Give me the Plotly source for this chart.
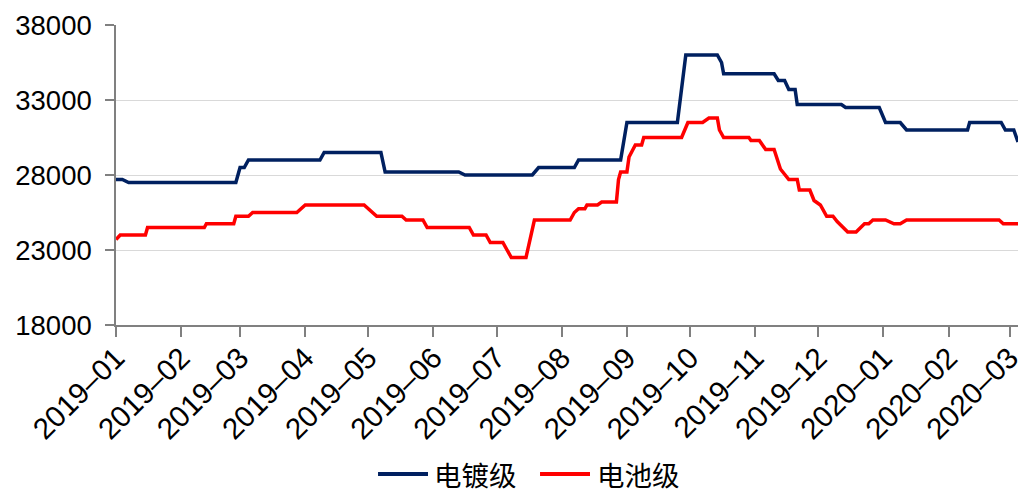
import plotly.graph_objects as go

# 电镀级 (electroplating grade)
plating_dates = [
    "2019-01-01", "2019-01-04", "2019-01-07", "2019-02-27", "2019-03-01", "2019-03-03",
    "2019-03-05", "2019-04-08", "2019-04-10", "2019-05-07", "2019-05-09", "2019-06-13",
    "2019-06-16", "2019-07-18", "2019-07-21", "2019-08-07", "2019-08-09", "2019-08-29",
    "2019-09-01", "2019-09-25", "2019-09-29", "2019-10-14", "2019-10-16", "2019-10-17",
    "2019-11-10", "2019-11-12", "2019-11-15", "2019-11-17", "2019-11-20", "2019-11-21",
    "2019-12-12", "2019-12-14", "2019-12-30", "2020-01-02", "2020-01-09", "2020-01-12",
    "2020-02-10", "2020-02-11", "2020-02-26", "2020-02-28", "2020-03-03", "2020-03-05",
]
plating_values = [
    27700, 27700, 27500, 27500, 28500, 28500,
    29000, 29000, 29500, 29500, 28200, 28200,
    28000, 28000, 28500, 28500, 29000, 29000,
    31500, 31500, 36000, 36000, 35500, 34750,
    34750, 34300, 34300, 33700, 33700, 32700,
    32700, 32500, 32500, 31500, 31500, 31000,
    31000, 31500, 31500, 31000, 31000, 30200,
]

# 电池级 (battery grade)
battery_dates = [
    "2019-01-01", "2019-01-03", "2019-01-15", "2019-01-16", "2019-02-12", "2019-02-13",
    "2019-02-26", "2019-02-27", "2019-03-05", "2019-03-07", "2019-03-28", "2019-04-01",
    "2019-04-29", "2019-05-05", "2019-05-17", "2019-05-19", "2019-05-27", "2019-05-29",
    "2019-06-18", "2019-06-20", "2019-06-26", "2019-06-28", "2019-07-04", "2019-07-08",
    "2019-07-15", "2019-07-17", "2019-07-19", "2019-08-05", "2019-08-07", "2019-08-09",
    "2019-08-12", "2019-08-13", "2019-08-18", "2019-08-20", "2019-08-27", "2019-08-28",
    "2019-08-29", "2019-09-01", "2019-09-02", "2019-09-05", "2019-09-08", "2019-09-09",
    "2019-09-27", "2019-09-30", "2019-10-07", "2019-10-10", "2019-10-14", "2019-10-15",
    "2019-10-17", "2019-10-29", "2019-10-30", "2019-11-03", "2019-11-06", "2019-11-10",
    "2019-11-13", "2019-11-17", "2019-11-21", "2019-11-22", "2019-11-27", "2019-11-29",
    "2019-12-02", "2019-12-05", "2019-12-08", "2019-12-10", "2019-12-15", "2019-12-19",
    "2019-12-23", "2019-12-25", "2019-12-27", "2020-01-02", "2020-01-06", "2020-01-09",
    "2020-01-12", "2020-02-25", "2020-02-27", "2020-03-05",
]
battery_values = [
    23700, 24000, 24000, 24500, 24500, 24750,
    24750, 25250, 25250, 25500, 25500, 26000,
    26000, 25250, 25250, 25000, 25000, 24500,
    24500, 24000, 24000, 23500, 23500, 22500,
    22500, 23900, 25000, 25000, 25500, 25750,
    25750, 26000, 26000, 26200, 26200, 27700,
    28200, 28200, 29200, 30000, 30000, 30500,
    30500, 31500, 31500, 31800, 31800, 31000,
    30500, 30500, 30300, 30300, 29700, 29700,
    28400, 27700, 27700, 27000, 27000, 26300,
    26000, 25250, 25250, 24900, 24200, 24200,
    24750, 24750, 25000, 25000, 24750, 24750,
    25000, 25000, 24750, 24750,
]

series_names = ["电镀级", "电池级"]
series_colors = ["#002060", "#FF0000"]

y_ticks = [18000, 23000, 28000, 33000, 38000]
y_tick_labels = ["18000", "23000", "28000", "33000", "38000"]
x_range = ["2019-01-01", "2020-03-05"]

fig = go.Figure()
fig.add_trace(go.Scatter(x=plating_dates, y=plating_values, mode="lines",
                         name=series_names[0], showlegend=False,
                         line=dict(color=series_colors[0], width=3.5)))
fig.add_trace(go.Scatter(x=battery_dates, y=battery_values, mode="lines",
                         name=series_names[1], showlegend=False,
                         line=dict(color=series_colors[1], width=3.5)))

# Custom legend below the plot (paper coordinates)
legend_y = -0.497
legend_line_x = [(0.2905, 0.3459), (0.4701, 0.5255)]
legend_text_x = [0.3503, 0.5310]
for name, color, (x0, x1), tx in zip(series_names, series_colors, legend_line_x, legend_text_x):
    fig.add_shape(type="line", xref="paper", yref="paper",
                  x0=x0, x1=x1, y0=legend_y, y1=legend_y,
                  line=dict(color=color, width=4))
    fig.add_annotation(xref="paper", yref="paper", x=tx, y=legend_y,
                       xanchor="left", yanchor="middle", showarrow=False,
                       text=name,
                       font=dict(family="Noto Sans CJK SC", size=27.5, color="#000000"))

y_font = dict(family="Liberation Sans, Arial, sans-serif", size=27.5, color="#000000")
x_font = dict(family="Liberation Sans, Arial, sans-serif", size=29.5, color="#000000")

fig.update_layout(
    width=1019, height=495,
    margin=dict(l=116, r=1, t=25, b=170, autoexpand=False),
    plot_bgcolor="white", paper_bgcolor="white",
    showlegend=False,
    xaxis=dict(
        type="date", range=x_range,
        dtick="M1", tick0="2019-01-01", tickformat="%Y\u2013%m", tickangle=-45,
        ticks="outside", ticklen=10, tickcolor="#808080", tickwidth=1.5,
        showline=True, linecolor="#808080", linewidth=1.5,
        showgrid=False, zeroline=False, ticklabeloverflow="allow",
        ticklabelstandoff=-8,
        tickfont=x_font, automargin=False,
    ),
    yaxis=dict(
        range=[18000, 38000], tickvals=y_ticks, ticktext=y_tick_labels,
        ticks="outside", ticklen=9, tickcolor="#808080", tickwidth=1.5,
        showline=True, linecolor="#808080", linewidth=1.5,
        showgrid=True, gridcolor="#D9D9D9", gridwidth=1,
        zeroline=False, ticklabelstandoff=8,
        tickfont=y_font, automargin=False,
    ),
)

fig.write_html("out.html", config={"displayModeBar": False},
               post_script="document.body.style.margin='0';")
